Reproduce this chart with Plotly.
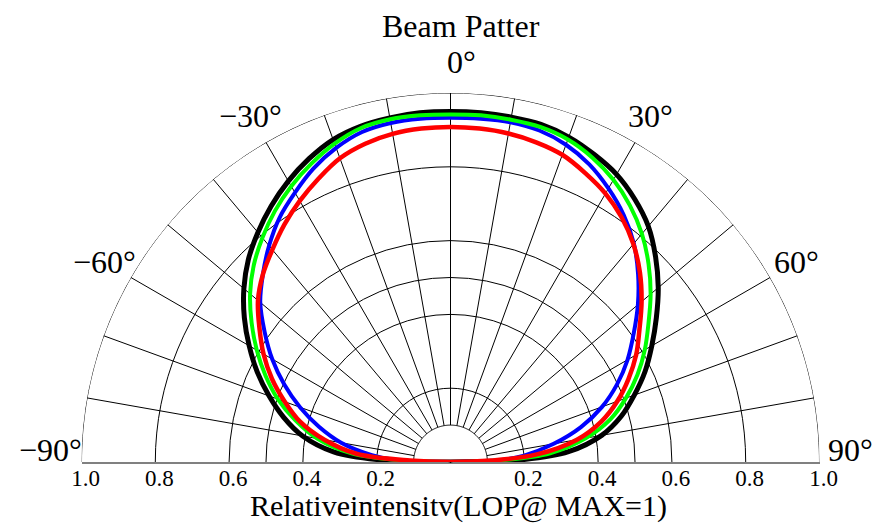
import plotly.graph_objects as go
import numpy as np

# ---------------- data ----------------
ANGLES = [-90, -88, -85, -80, -75, -70, -65, -60, -55, -50, -45, -40, -35, -30, -25, -20, -15, -10, -5, 0,
          5, 10, 15, 20, 25, 30, 35, 40, 45, 50, 55, 60, 65, 70, 75, 80, 85, 88, 90]

BLACK = [0.0, 0.20, 0.318, 0.407, 0.468, 0.523, 0.578, 0.630, 0.682, 0.731, 0.775, 0.812, 0.847, 0.879,
         0.907, 0.930, 0.942, 0.947, 0.950, 0.950, 0.950, 0.949, 0.947, 0.937, 0.920, 0.900, 0.870, 0.834,
         0.786, 0.735, 0.681, 0.630, 0.582, 0.530, 0.479, 0.416, 0.321, 0.20, 0.0]

GREEN = [0.0, 0.14, 0.269, 0.367, 0.435, 0.498, 0.553, 0.606, 0.658, 0.709, 0.754, 0.793, 0.830, 0.863,
         0.892, 0.918, 0.937, 0.943, 0.943, 0.942, 0.943, 0.942, 0.940, 0.930, 0.910, 0.883, 0.848, 0.807,
         0.759, 0.708, 0.655, 0.608, 0.559, 0.506, 0.449, 0.373, 0.271, 0.14, 0.0]

BLUE = [0.0, 0.15, 0.214, 0.301, 0.369, 0.434, 0.497, 0.558, 0.615, 0.673, 0.719, 0.765, 0.808, 0.843,
        0.878, 0.906, 0.926, 0.933, 0.934, 0.933, 0.934, 0.935, 0.930, 0.915, 0.890, 0.856, 0.818, 0.773,
        0.719, 0.663, 0.606, 0.554, 0.498, 0.437, 0.366, 0.284, 0.200, 0.13, 0.0]

RED = [0.0, 0.11, 0.256, 0.347, 0.422, 0.478, 0.534, 0.585, 0.632, 0.681, 0.719, 0.751, 0.785, 0.817,
       0.847, 0.876, 0.893, 0.903, 0.907, 0.908, 0.907, 0.904, 0.897, 0.886, 0.864, 0.840, 0.809, 0.771,
       0.726, 0.676, 0.625, 0.581, 0.532, 0.481, 0.423, 0.348, 0.235, 0.11, 0.0]

RADIAL_GRID = [0.2, 0.4, 0.5, 0.6, 0.8]
OUTER_RADIUS = 1.0
INNER_RADIUS = 0.1
SPOKES = list(range(-80, 81, 10))
ANGLE_LABELS = [-90, -60, -30, 0, 30, 60, 90]
BOTTOM_TICKS = [-1.0, -0.8, -0.6, -0.4, -0.2, 0.2, 0.4, 0.6, 0.8, 1.0]

TITLE = "Beam Patter"
XLABEL = "Relativeintensitv(LOP@ MAX=1)"

# ---------------- layout geometry ----------------
W, H = 876, 525
CX, CY, R = 450.5, 462.0, 369.0
XDOM = [(CX - R) / W, (CX + R) / W]
YDOM = [1 - CY / H, 1 - (CY - R) / H]
FONT = "Liberation Serif"

fig = go.Figure()

arc_theta = np.linspace(-90, 90, 181)

# outer boundary arc (r = 1.0)
fig.add_trace(go.Scatterpolar(
    r=[OUTER_RADIUS] * len(arc_theta), theta=arc_theta, mode="lines",
    line=dict(color="black", width=1), hoverinfo="skip", showlegend=False))

# white mask for the inner semicircle (spokes start at r = 0.1)
fig.add_trace(go.Scatterpolar(
    r=[INNER_RADIUS] * len(arc_theta), theta=arc_theta, mode="lines",
    fill="toself", fillcolor="white", line=dict(color="black", width=1),
    hoverinfo="skip", showlegend=False))

series = [(BLACK, "black", 5), (BLUE, "#0000ff", 4), (GREEN, "#00ff00", 4), (RED, "#ff0000", 4.5)]
for vals, col, w in series:
    fig.add_trace(go.Scatterpolar(
        r=vals, theta=ANGLES, mode="lines",
        line=dict(color=col, width=w, shape="spline", smoothing=1.0),
        showlegend=False))

# invisible trace to instantiate the cartesian axis used for the bottom scale
fig.add_trace(go.Scatter(x=[None], y=[None], mode="lines", showlegend=False, hoverinfo="skip"))

# angular labels placed just outside the outer arc
LR = 400.0
annotations = []
for a in ANGLE_LABELS:
    txt = ("\u2212" if a < 0 else "") + f"{abs(a)}\u00b0"
    rad = np.deg2rad(a)
    annotations.append(dict(
        x=(CX + LR * np.sin(rad)) / W, y=1 - (CY - LR * np.cos(rad)) / H,
        xref="paper", yref="paper",
        text=txt, showarrow=False, xanchor="center", yanchor="middle",
        xshift=11 if a == 0 else 0, yshift=12 if abs(a) == 90 else 0,
        font=dict(family=FONT, size=32, color="black")))

annotations.append(dict(x=460.5 / W, y=1 - 26 / H, xref="paper", yref="paper", text=TITLE,
                        showarrow=False, xanchor="center", yanchor="middle",
                        font=dict(family=FONT, size=32, color="black")))
annotations.append(dict(x=458 / W, y=1 - 506 / H, xref="paper", yref="paper", text=XLABEL,
                        showarrow=False, xanchor="center", yanchor="middle",
                        font=dict(family=FONT, size=30, color="black")))

fig.update_layout(
    width=W, height=H,
    margin=dict(l=0, r=0, t=0, b=0, autoexpand=False),
    paper_bgcolor="white", plot_bgcolor="rgba(0,0,0,0)",
    showlegend=False,
    polar=dict(
        domain=dict(x=XDOM, y=YDOM),
        sector=[0, 180],
        bgcolor="rgba(0,0,0,0)",
        angularaxis=dict(rotation=90, direction="clockwise", tickmode="array", tickvals=SPOKES,
                         showticklabels=False, ticks="", showgrid=True, gridcolor="black", gridwidth=1,
                         showline=False),
        radialaxis=dict(range=[0, OUTER_RADIUS], tickmode="array", tickvals=RADIAL_GRID,
                        showticklabels=False, ticks="", showline=False, showgrid=True,
                        gridcolor="black", gridwidth=1),
    ),
    xaxis=dict(domain=XDOM, range=[-1, 1], tickmode="array", tickvals=BOTTOM_TICKS,
               ticktext=[f"{abs(v):.1f}" for v in BOTTOM_TICKS],
               showline=True, linecolor="#808080", linewidth=1.5, showgrid=False, zeroline=False,
               ticks="", ticklabelshift=4, ticklabelstandoff=-5, automargin=False,
               tickfont=dict(family=FONT, size=23, color="black"), fixedrange=True),
    yaxis=dict(domain=YDOM, range=[0, 1], visible=False, fixedrange=True),
    annotations=annotations,
)

fig.write_html("out.html", config={"displayModeBar": False},
               post_script="document.body.style.margin='0px';")
